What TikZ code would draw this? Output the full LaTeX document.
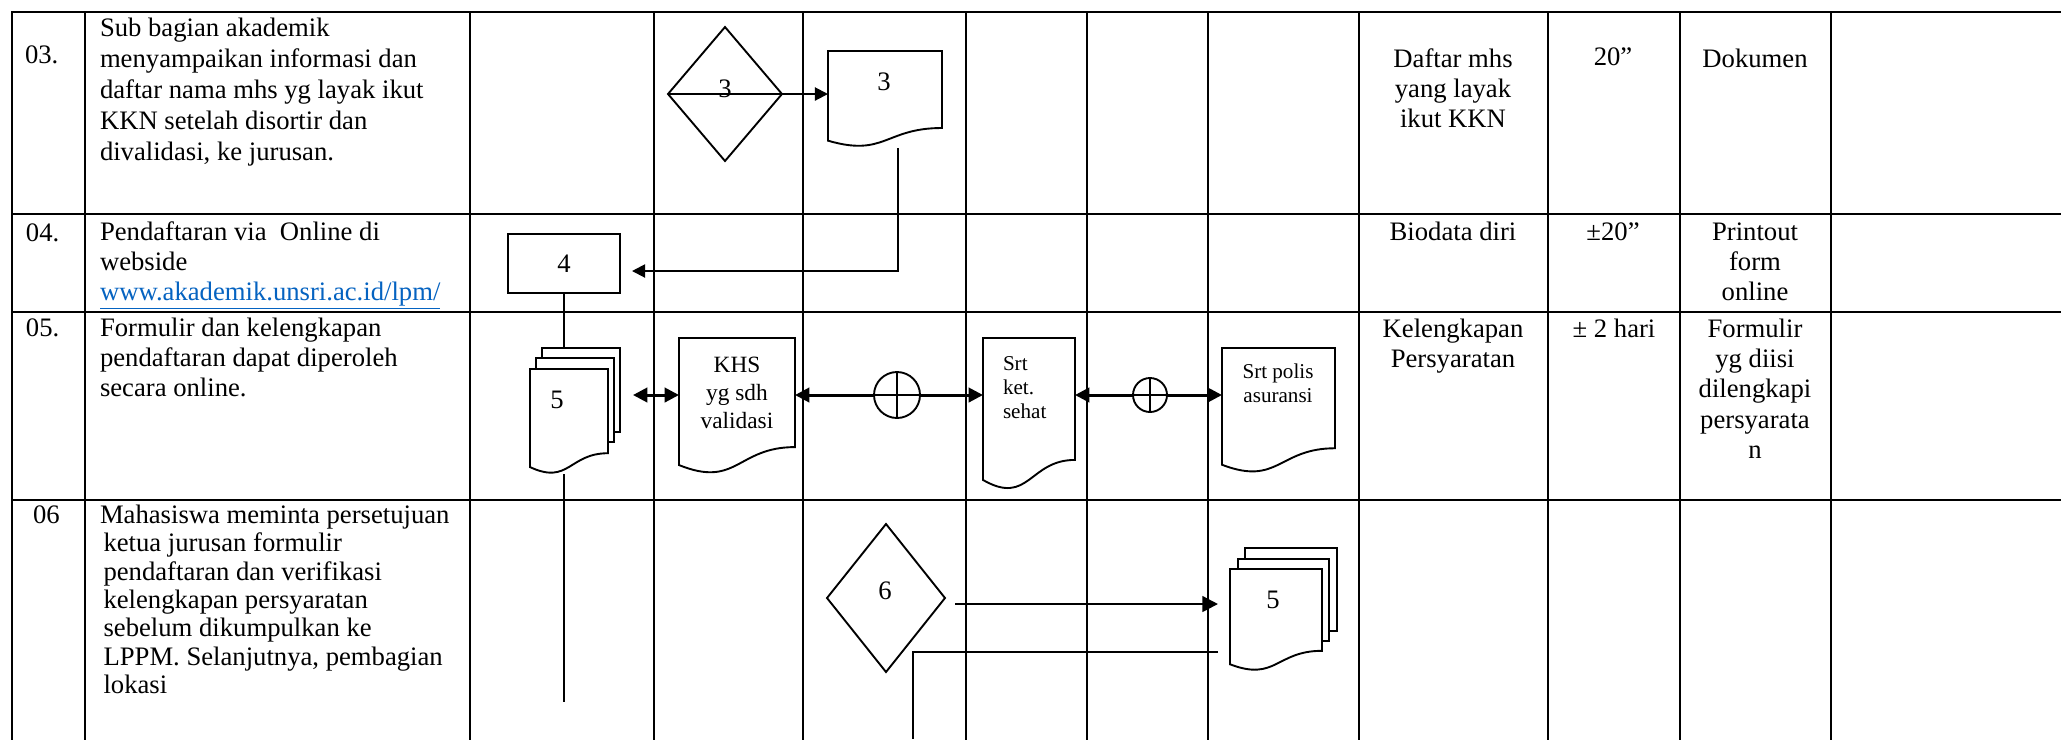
\documentclass[tikz,border=0pt]{standalone}
\usepackage{fontspec}
\setmainfont{Liberation Serif}
\usetikzlibrary{arrows.meta,calc,shapes.geometric}
\newlength\pu \setlength\pu{0.45pt}
\definecolor{linkblue}{RGB}{5,99,193}
\newcommand\Lstack[1]{\vtop{\halign{##\hfil\cr#1\crcr}}}
\newcommand\Cstack[1]{\vtop{\halign{\hfil##\hfil\cr#1\crcr}}}
\newcommand\docoutline[1]{%
  \draw[shp] (#1.north west) -- (#1.north east)
    -- ($(#1.north east)!0.802!(#1.south east)$)
    .. controls ($(#1.north)!0.802!(#1.south)$) and ($(#1.north)!1.107!(#1.south)$)
    .. ($(#1.north west)!0.934!(#1.south west)$) -- cycle;}
\tikzset{
  grid/.style={line width=1.1pt, line cap=rect},
  shp/.style={draw, line width=0.85pt, fill=white, inner sep=0pt, outer sep=0pt},
  docbox/.style={rectangle, inner sep=0pt, outer sep=0pt},
  lbl/.style={inner sep=0pt, outer sep=0pt, font=\fontsize{12}{13.7}\selectfont},
  plain/.style={line width=0.9pt},
  arr3/.style={line width=0.9pt, -{Triangle[length=5.9pt,width=5.9pt]}},
  arr5/.style={line width=1.35pt, -{Triangle[length=6.5pt,width=6.5pt]}},
  arr6/.style={line width=1.05pt, -{Triangle[length=7pt,width=7pt]}},
}
\begin{document}
\begin{tikzpicture}[x=0.45pt, y=-0.45pt]
\fill[white] (0,0) rectangle (2061,739);
\useasboundingbox (0,0) rectangle (2061,739);
% grid
\foreach \x in {12,85,470,654,803,966,1087,1208,1359,1548,1680,1831}
  \draw[grid] (\x,12) -- (\x,745);
\foreach \y in {12,214,312,500}
  \draw[grid] (12,\y) -- (2070,\y);

% ---------- row 03 ----------
\node[lbl, anchor=base west] (n03) at (25,63) {03.};
\node[lbl, font=\fontsize{12}{13.95}\selectfont, anchor=base west] (t03) at (100,36)
  {\Lstack{Sub bagian akademik\cr menyampaikan informasi dan\cr daftar nama mhs yg layak ikut\cr KKN setelah disortir dan\cr divalidasi, ke jurusan.}};
\node[shp, diamond, minimum width=114\pu, minimum height=134\pu] (d3) at (725,94) {};
\node[docbox, minimum width=114\pu, minimum height=96\pu] (doc3) at (885,99) {};
\docoutline{doc3}
\draw[arr3] (d3.west) -- (doc3.west |- d3.west);
\node[lbl, anchor=base] (d3t) at (725,97) {3};
\node[lbl, anchor=base] (doc3t) at (884,90) {3};
\node[lbl, anchor=base] (r03a) at (1453,67) {\Cstack{Daftar mhs\cr yang layak\cr ikut KKN}};
\node[lbl, anchor=base] (r03b) at (1613,65) {20”};
\node[lbl, anchor=base] (r03c) at (1755,67) {Dokumen};

% ---------- row 04 ----------
\node[lbl, anchor=base west] (n04) at (26,241) {04.};
\node[lbl, font=\fontsize{12}{13.5}\selectfont, anchor=base west] (t04) at (100,240)
  {\Lstack{Pendaftaran via\ \ Online di\cr webside\cr \textcolor{linkblue}{\underline{www.akademik.unsri.ac.id/lpm/}}}};
\node[shp, rectangle, minimum width=112\pu, minimum height=59\pu, font=\fontsize{12}{13.7}\selectfont] (box4) at (564,263.5) {4};
\coordinate (c3a) at (898,148);
\coordinate (c3b) at (898,271);
\draw[arr3, shorten >=12\pu] (c3a) -- (c3b) -- (box4.east |- c3b);
\node[lbl, anchor=base] (r04a) at (1453,240) {Biodata diri};
\node[lbl, anchor=base] (r04b) at (1613,240) {±20”};
\node[lbl, font=\fontsize{12}{13.5}\selectfont, anchor=base] (r04c) at (1755,240) {\Cstack{Printout\cr form\cr online}};

% ---------- row 05 ----------
\node[lbl, anchor=base west] (n05) at (26,336) {05.};
\node[lbl, font=\fontsize{12}{13.5}\selectfont, anchor=base west] (t05) at (100,336)
  {\Lstack{Formulir dan kelengkapan\cr pendaftaran dapat diperoleh\cr secara online.}};
% multi document 5
\node[shp, minimum width=78\pu, minimum height=84\pu] (md5b) at (581,390) {};
\node[shp, minimum width=78\pu, minimum height=84\pu] (md5m) at (575,400) {};
\node[docbox, minimum width=78\pu, minimum height=105\pu] (md5) at (569,421.5) {};
\docoutline{md5}
\node[lbl, anchor=base] (md5t) at (557,408) {5};
\draw[plain] (box4.south) -- (box4.south |- md5b.north);
\coordinate (e5) at (564,702);
\draw[plain] (box4.south |- md5.south) -- (e5);
% documents
\node[docbox, minimum width=116\pu, minimum height=136\pu] (khs) at (737,406) {};
\docoutline{khs}
\node[lbl, font=\fontsize{10.5}{12.6}\selectfont, anchor=base] (khst) at (737,372) {\Cstack{KHS\cr yg sdh\cr validasi}};
\node[docbox, minimum width=92\pu, minimum height=152\pu] (srtket) at (1029,414) {};
\docoutline{srtket}
\node[lbl, font=\fontsize{9.5}{10.8}\selectfont, anchor=base west] (srtkett) at (1003,370) {\Lstack{Srt\cr ket.\cr sehat}};
\node[docbox, minimum width=113\pu, minimum height=125\pu] (polis) at (1278.5,410.5) {};
\docoutline{polis}
\node[lbl, font=\fontsize{9.5}{10.8}\selectfont, anchor=base] (polist) at (1278,378) {\Cstack{Srt polis\cr asuransi}};
% summing junctions
\node[shp, circle, minimum size=46\pu] (c1) at (897,395) {};
\draw[plain] (c1.north) -- (c1.south) (c1.west) -- (c1.east);
\node[shp, circle, minimum size=34\pu] (c2) at (1150,395) {};
\draw[plain] (c2.north) -- (c2.south) (c2.west) -- (c2.east);
\draw[line width=1.35pt, {Triangle[length=6.5pt,width=6.5pt]}-{Triangle[length=6.5pt,width=6.5pt]}]
  ([xshift=13\pu]md5b.east |- c1) -- (khs.west |- c1);
\draw[arr5] (c1.west) -- (khs.east |- c1);
\draw[arr5] (c1.east) -- (srtket.west |- c1);
\draw[arr5] (c2.west) -- (srtket.east |- c2);
\draw[arr5] (c2.east) -- (polis.west |- c2);
\node[lbl, anchor=base] (r05a) at (1453,337) {\Cstack{Kelengkapan\cr Persyaratan}};
\node[lbl, anchor=base] (r05b) at (1614,337) {± 2 hari};
\node[lbl, anchor=base] (r05c) at (1755,337) {\Cstack{Formulir\cr yg diisi\cr dilengkapi\cr persyarata\cr n}};

% ---------- row 06 ----------
\node[lbl, anchor=base west] (n06) at (33,523.5) {06};
\node[lbl, font=\fontsize{12}{12.75}\selectfont, anchor=base west] (t06) at (100,523.5)
  {\Lstack{Mahasiswa meminta persetujuan\cr \kern1.6pt ketua jurusan formulir\cr \kern1.6pt pendaftaran dan verifikasi\cr \kern1.6pt kelengkapan persyaratan\cr \kern1.6pt sebelum dikumpulkan ke\cr \kern1.6pt LPPM. Selanjutnya, pembagian\cr \kern1.6pt lokasi}};
\node[shp, diamond, minimum width=118\pu, minimum height=148\pu] (d6) at (886,598) {};
\node[lbl, anchor=base] (d6t) at (885,599) {6};
\node[shp, minimum width=92\pu, minimum height=83\pu] (md6b) at (1291,589.5) {};
\node[shp, minimum width=91\pu, minimum height=82\pu] (md6m) at (1283.5,600) {};
\node[docbox, minimum width=92\pu, minimum height=102\pu] (md6) at (1276,620) {};
\docoutline{md6}
\node[lbl, anchor=base] (md6t) at (1273,608) {5};
\coordinate (a6) at (955,604);
\draw[arr6, shorten >=12\pu] (a6) -- (md6.west |- a6);
\coordinate (b6) at (1218,652);
\coordinate (b6e) at (913,739);
\draw[line width=1.05pt] (b6) -| (b6e);
\end{tikzpicture}
\end{document}
